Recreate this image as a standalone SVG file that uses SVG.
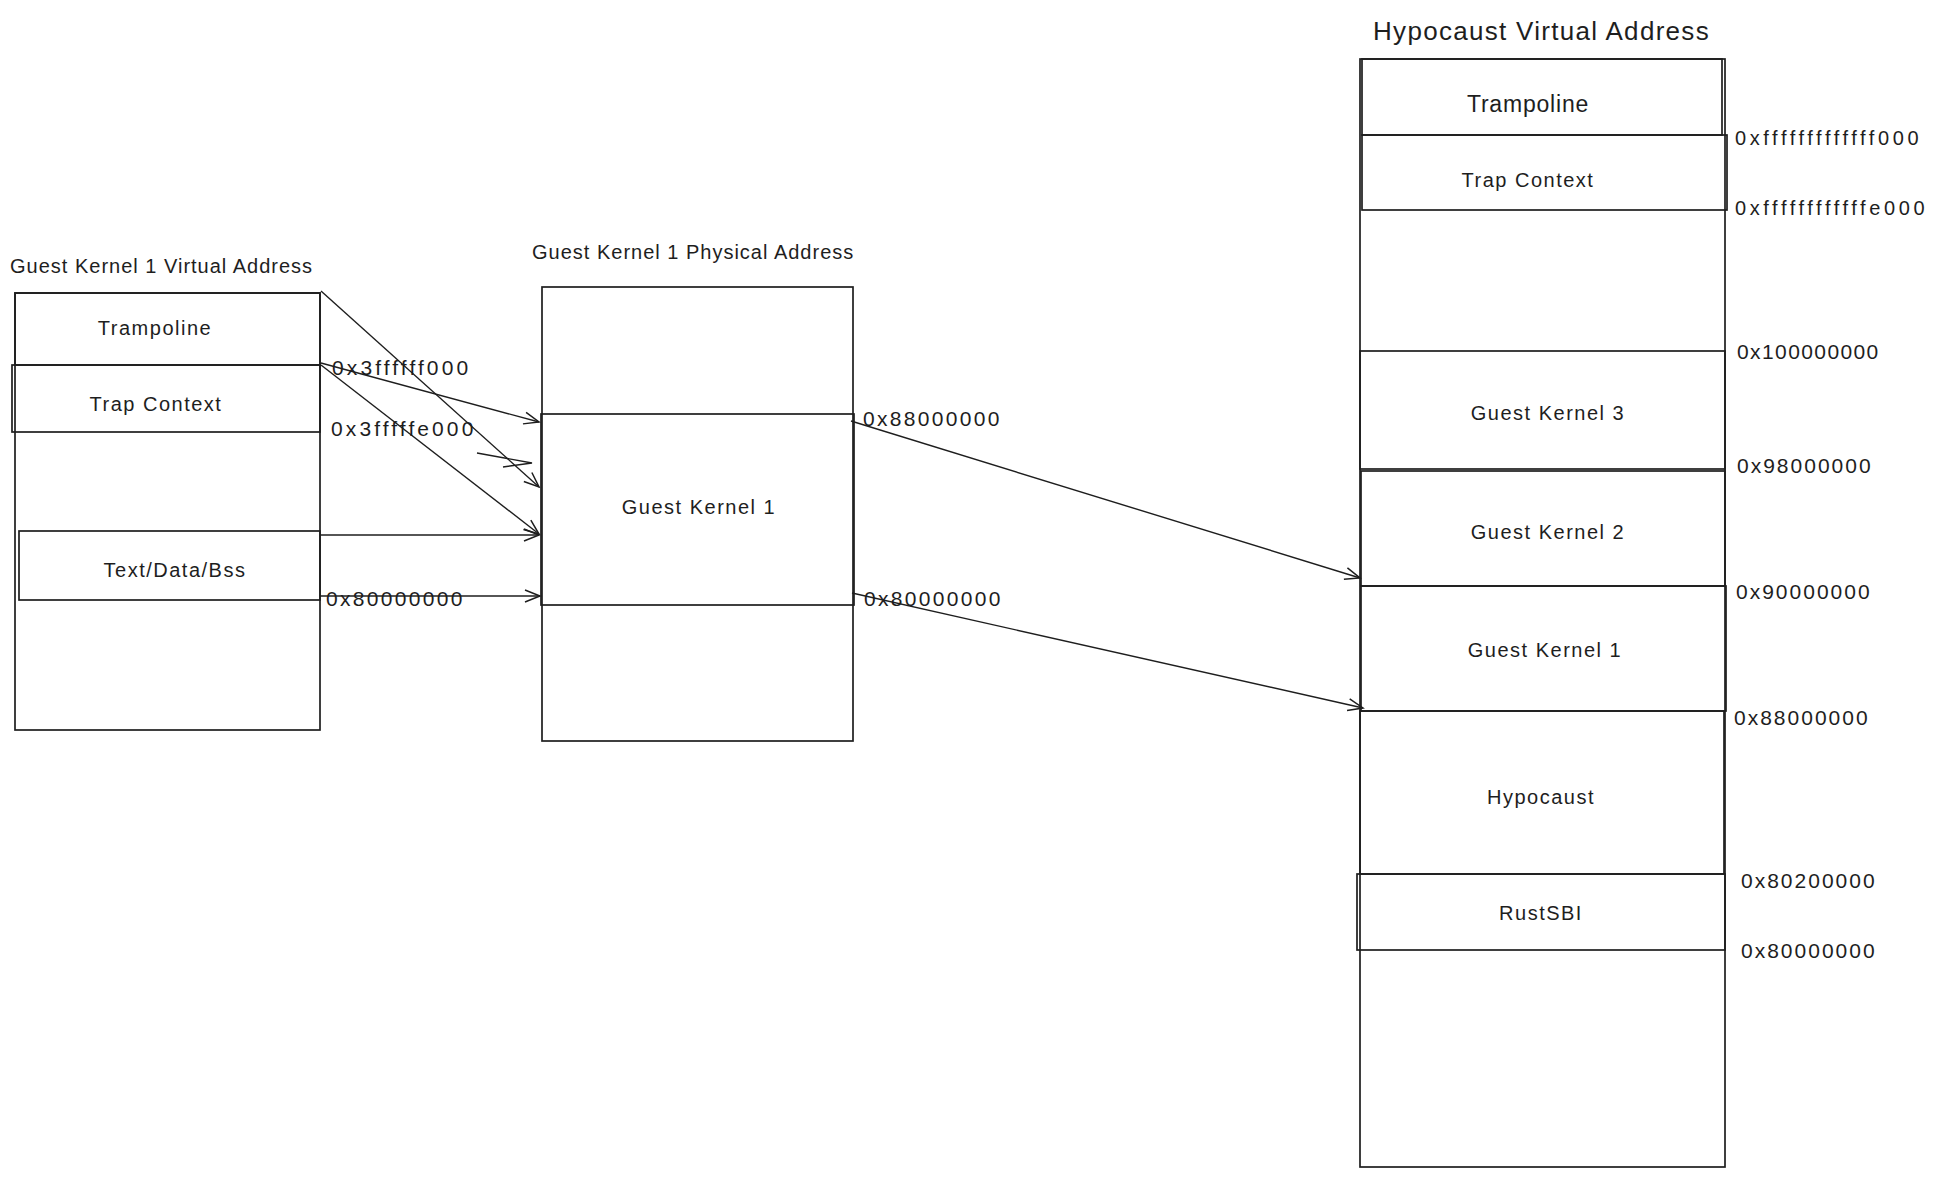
<svg xmlns="http://www.w3.org/2000/svg" width="1939" height="1177" viewBox="0 0 1939 1177">
<defs>
<style>
.bg{fill:#ffffff}
.box{fill:none;stroke:#1e1e1e;stroke-width:1.7}
.ln{fill:none;stroke:#1e1e1e;stroke-width:1.4}
text{font-family:"Liberation Sans",Arial,sans-serif;fill:#1e1e1e;dominant-baseline:central}
.title{font-size:20px;letter-spacing:1px}
.big{font-size:26px;letter-spacing:1.3px}
.lbl{font-size:20px;letter-spacing:1.5px;text-anchor:middle}
.lblb{font-size:23px;letter-spacing:0.8px;text-anchor:middle}
.hex{font-size:21px;letter-spacing:2.3px}
.hexs{font-size:21px;letter-spacing:3.1px}
.hexf{font-size:20px;letter-spacing:3.6px}
</style>
<marker id="arr" viewBox="-16 -8 18 16" refX="0" refY="0" markerWidth="18" markerHeight="16" markerUnits="userSpaceOnUse" orient="auto">
<path d="M-15,-6 L0,0 L-15,6" fill="none" stroke="#1e1e1e" stroke-width="1.5"/>
</marker>
</defs>
<rect class="bg" x="0" y="0" width="1939" height="1177"/>

<g id="guest-virtual">
<text class="title" x="10" y="266">Guest Kernel 1 Virtual Address</text>
<rect class="box" x="15" y="293" width="305" height="437"/>
<g id="gv-trampoline">
<rect class="box" x="15" y="293" width="305" height="72"/>
<text class="lbl" x="155" y="328">Trampoline</text>
</g>
<g id="gv-trap">
<rect class="box" x="12" y="365" width="308" height="67"/>
<text class="lbl" x="156" y="404">Trap Context</text>
</g>
<g id="gv-text">
<rect class="box" x="19" y="531" width="301" height="69"/>
<text class="lbl" x="175" y="570">Text/Data/Bss</text>
</g>
<text class="hexs" x="332" y="367">0x3ffffff000</text>
<text class="hexs" x="331" y="428">0x3fffffe000</text>
<text class="hex" x="326" y="598">0x80000000</text>
</g>

<g id="guest-physical">
<text class="title" x="532" y="252">Guest Kernel 1 Physical Address</text>
<rect class="box" x="542" y="287" width="311" height="454"/>
<g id="gp-kernel1">
<rect class="box" x="541" y="414" width="313" height="191"/>
<text class="lbl" x="699" y="507">Guest Kernel 1</text>
</g>
<text class="hex" x="863" y="418">0x88000000</text>
<text class="hex" x="864" y="598">0x80000000</text>
</g>

<g id="hypocaust-virtual">
<text class="big" x="1373" y="31">Hypocaust Virtual Address</text>
<rect class="box" x="1360" y="59" width="365" height="1108"/>
<g id="hv-trampoline">
<rect class="box" x="1362" y="59" width="360" height="76"/>
<text class="lblb" x="1528" y="104">Trampoline</text>
</g>
<g id="hv-trap">
<rect class="box" x="1362" y="135" width="365" height="75"/>
<text class="lbl" x="1528" y="180">Trap Context</text>
</g>
<g id="hv-gk3">
<rect class="box" x="1360" y="351" width="365" height="118"/>
<text class="lbl" x="1548" y="413">Guest Kernel 3</text>
</g>
<g id="hv-gk2">
<rect class="box" x="1361" y="471" width="364" height="115"/>
<text class="lbl" x="1548" y="532">Guest Kernel 2</text>
</g>
<g id="hv-gk1">
<rect class="box" x="1361" y="586" width="365" height="125"/>
<text class="lbl" x="1545" y="650">Guest Kernel 1</text>
</g>
<g id="hv-hypocaust">
<rect class="box" x="1360" y="711" width="364" height="163"/>
<text class="lbl" x="1541" y="797">Hypocaust</text>
</g>
<g id="hv-rustsbi">
<rect class="box" x="1357" y="874" width="368" height="76"/>
<text class="lbl" x="1541" y="913">RustSBI</text>
</g>
<text class="hexf" x="1735" y="138">0xfffffffffffff000</text>
<text class="hexf" x="1735" y="208">0xffffffffffffe000</text>
<text class="hex" x="1737" y="351" style="letter-spacing:1.4px">0x100000000</text>
<text class="hex" x="1737" y="465" style="letter-spacing:2px">0x98000000</text>
<text class="hex" x="1736" y="591" style="letter-spacing:2px">0x90000000</text>
<text class="hex" x="1734" y="717" style="letter-spacing:2px">0x88000000</text>
<text class="hex" x="1741" y="880" style="letter-spacing:2px">0x80200000</text>
<text class="hex" x="1741" y="950" style="letter-spacing:2px">0x80000000</text>
</g>

<g id="connectors">
<line class="ln" x1="321" y1="291" x2="539" y2="487" marker-end="url(#arr)"/>
<line class="ln" x1="321" y1="363" x2="539" y2="422" marker-end="url(#arr)"/>
<line class="ln" x1="321" y1="365" x2="539" y2="534" marker-end="url(#arr)"/>
<line class="ln" x1="320" y1="535" x2="539" y2="535" marker-end="url(#arr)"/>
<line class="ln" x1="320" y1="596" x2="540" y2="596" marker-end="url(#arr)"/>
<path class="ln" d="M477,453 L532,463 L503,467"/>
<line class="ln" x1="851" y1="421" x2="1360" y2="578" marker-end="url(#arr)"/>
<line class="ln" x1="852" y1="593" x2="1363" y2="708" marker-end="url(#arr)"/>
</g>
</svg>
